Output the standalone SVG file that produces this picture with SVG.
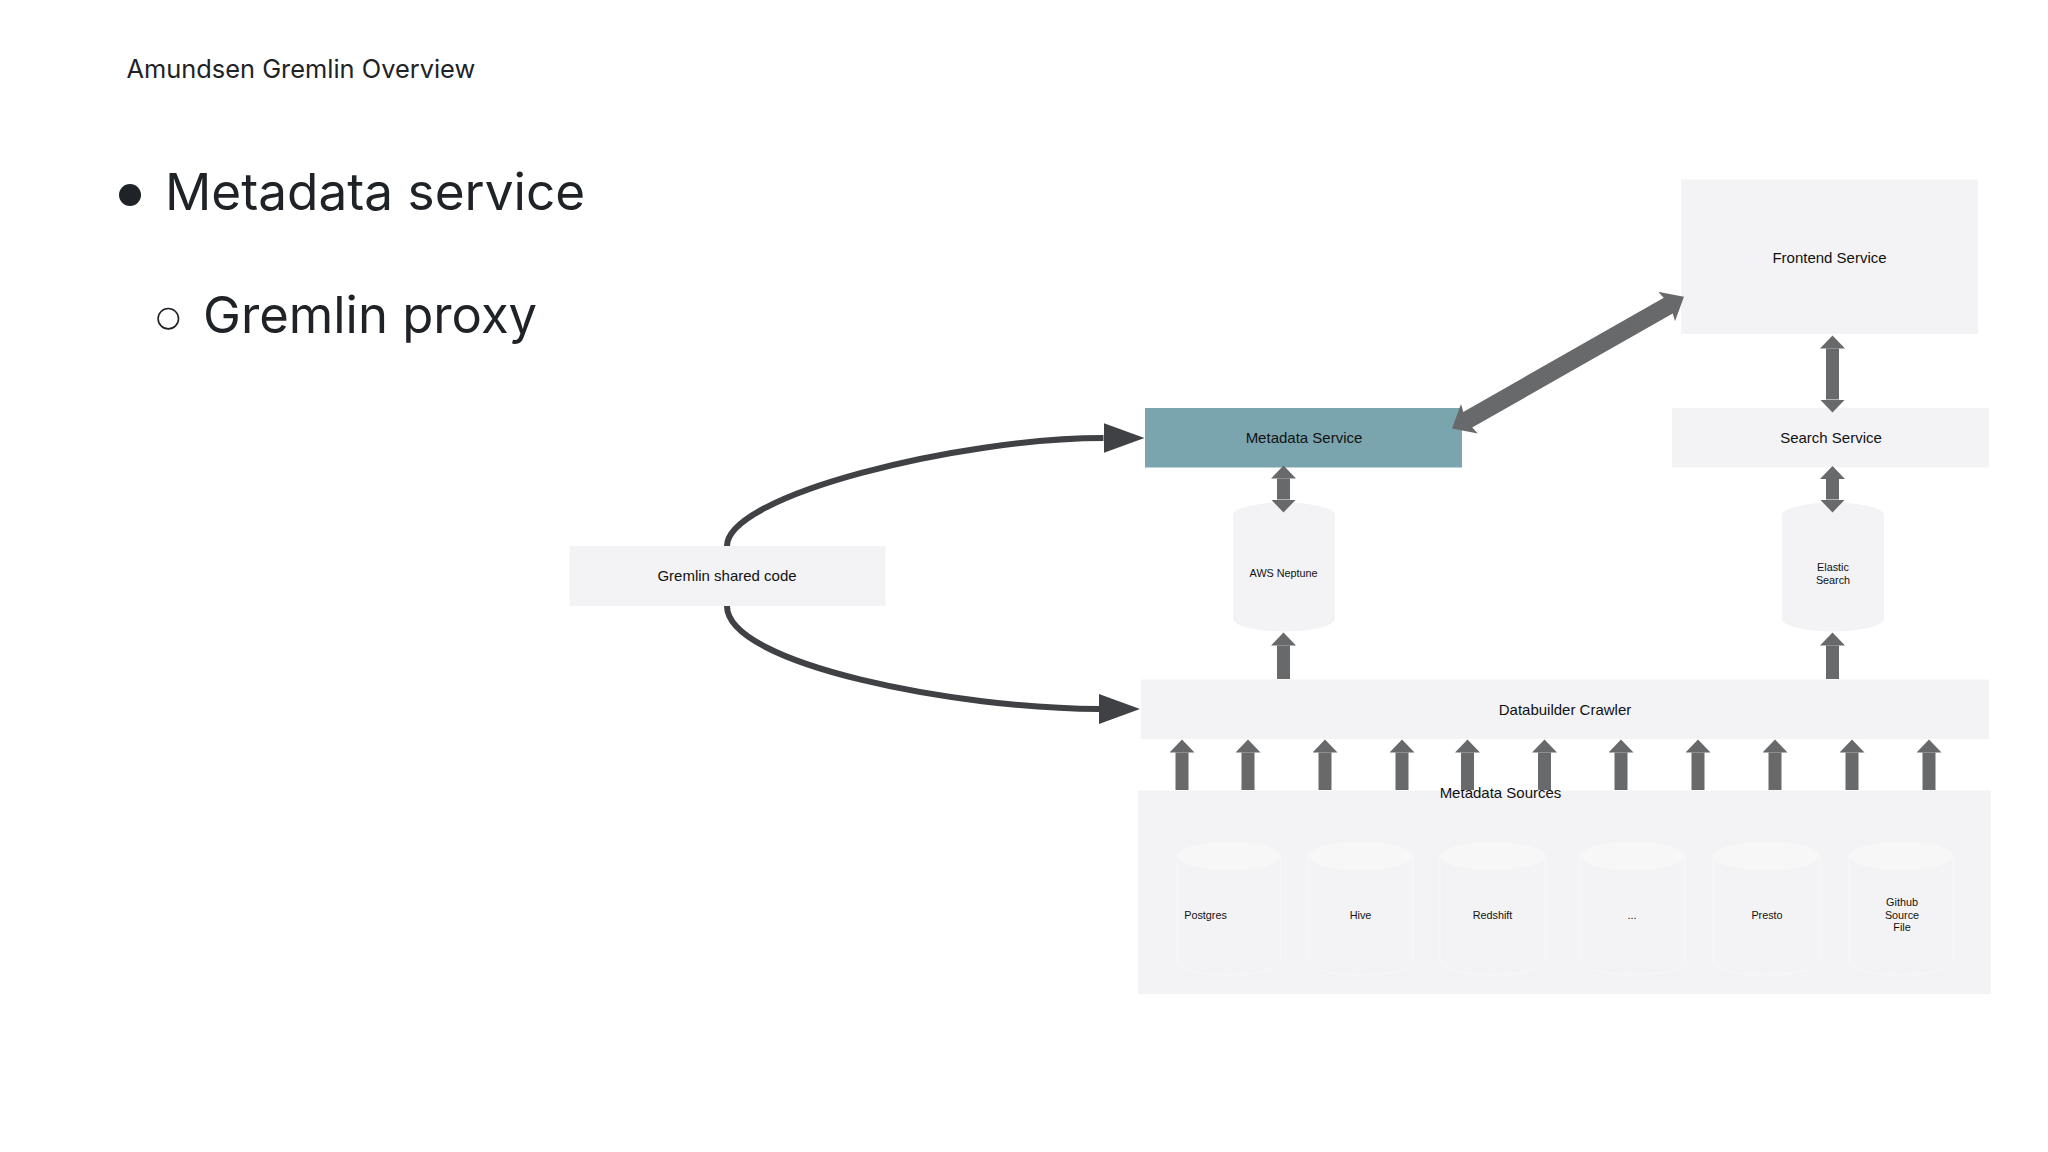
<svg xmlns="http://www.w3.org/2000/svg" width="2048" height="1152" viewBox="0 0 2048 1152">
<style>
.box{fill:#f3f3f5}
.cyl{fill:#f3f3f5}
.src{fill:#f3f3f5;stroke:#f8f8f9;stroke-width:1}
.top{fill:#f7f7f8}
.lbl{font-family:"Liberation Sans",Arial,sans-serif;fill:#111;text-anchor:middle}
.l16{font-size:15px}
.l11{font-size:10.8px}
.hd{font-family:Inter,sans-serif;fill:#1f2327}
.ar{stroke:#68696b;stroke-width:13;fill:none}
.diag{stroke:#68696b;stroke-width:18;fill:none}
.cv{stroke:#3f4144;stroke-width:6;fill:none}
</style>
<defs>
<marker id="h" markerUnits="userSpaceOnUse" markerWidth="14" markerHeight="26" refX="0" refY="12.5" orient="auto-start-reverse"><path d="M0 0L13 12.5L0 25Z" fill="#68696b"/></marker>
<marker id="hd" markerUnits="userSpaceOnUse" markerWidth="22" markerHeight="36" refX="6" refY="17" orient="auto-start-reverse"><path d="M0 0L20 17L0 34L4 17Z" fill="#68696b"/></marker>
<marker id="hc" markerUnits="userSpaceOnUse" markerWidth="42" markerHeight="31" refX="0" refY="15" orient="auto"><path d="M0 0L41 15L0 30Z" fill="#3f4144"/></marker>
</defs>
<rect width="2048" height="1152" fill="#fff"/>
<text id="title" class="hd" x="126.5" y="77.500" font-size="25.400">Amundsen Gremlin Overview</text>
<g id="bullets">
<circle cx="130" cy="195" r="11" fill="#1f2327"/>
<text class="hd" font-size="51.300" x="165" y="210">Metadata service</text>
<circle cx="168.3" cy="318.7" r="10.2" fill="none" stroke="#1f2327" stroke-width="1.6"/>
<text class="hd" font-size="50.800" x="203" y="333">Gremlin proxy</text>
</g>
<g id="node-frontend"><rect class="box" x="1681" y="179.500" width="297" height="154.500"/><text class="lbl l16" x="1829.500" y="262.700">Frontend Service</text></g>
<g id="node-search"><rect class="box" x="1672" y="408" width="317" height="59.500"/><text class="lbl l16" x="1831" y="443">Search Service</text></g>
<g id="node-metadata"><rect x="1145" y="408" width="317" height="59.500" fill="#7ba5ae"/><text class="lbl l16" x="1304" y="443">Metadata Service</text></g>
<g id="node-gremlin"><rect class="box" x="569.500" y="546" width="316" height="60"/><text class="lbl l16" x="727" y="581">Gremlin shared code</text></g>
<g id="node-neptune"><path class="cyl" d="M1233 515a51 12.500 0 0 1 102 0V619a51 12.500 0 0 1-102 0Z"/><text class="lbl l11" x="1283.600" y="577">AWS Neptune</text></g>
<g id="node-elastic"><path class="cyl" d="M1782 515a51 12.500 0 0 1 102 0V619a51 12.500 0 0 1-102 0Z"/><text class="lbl l11" x="1833" y="571">Elastic</text><text class="lbl l11" x="1833" y="584">Search</text></g>
<g id="node-crawler"><rect class="box" x="1141" y="679.500" width="848" height="59.500"/><text class="lbl l16" x="1565" y="714.500">Databuilder Crawler</text></g>
<g id="node-sources"><rect class="box" x="1138" y="790.500" width="853" height="203.500"/><text class="lbl l16" x="1500.500" y="798">Metadata Sources</text></g>
<g id="node-postgres"><path class="src" d="M1177.500 856V961a51.500 14 0 0 0 103 0V856"/><ellipse class="top" cx="1229" cy="856" rx="51.500" ry="14"/><text class="lbl l11" x="1205.500" y="919">Postgres</text></g>
<g id="node-hive"><path class="src" d="M1308 856V961a52 14 0 0 0 105 0V856"/><ellipse class="top" cx="1360.500" cy="856" rx="52.500" ry="14"/><text class="lbl l11" x="1360.500" y="919">Hive</text></g>
<g id="node-redshift"><path class="src" d="M1440 856V961a53 14 0 0 0 106 0V856"/><ellipse class="top" cx="1493" cy="856" rx="53" ry="14"/><text class="lbl l11" x="1492.500" y="919">Redshift</text></g>
<g id="node-more"><path class="src" d="M1580 856V961a52.500 14 0 0 0 105 0V856"/><ellipse class="top" cx="1632.500" cy="856" rx="52.500" ry="14"/><text class="lbl l11" x="1632" y="919">...</text></g>
<g id="node-presto"><path class="src" d="M1713 856V961a53.500 14 0 0 0 107 0V856"/><ellipse class="top" cx="1766" cy="856" rx="54" ry="14"/><text class="lbl l11" x="1767" y="919">Presto</text></g>
<g id="node-github"><path class="src" d="M1849 856V961a52 14 0 0 0 104.500 0V856"/><ellipse class="top" cx="1901.500" cy="856" rx="52" ry="14"/><text class="lbl l11" x="1902" y="906">Github</text><text class="lbl l11" x="1902" y="919">Source</text><text class="lbl l11" x="1902" y="931">File</text></g>
<g id="connectors">
<path class="cv" d="M727 546C727 495 960 438 1103.500 438" marker-end="url(#hc)"/>
<path class="cv" d="M727 606C727 665 960 709 1099 709" marker-end="url(#hc)"/>
<line class="diag" x1="1464.200" y1="421.700" x2="1671.800" y2="303.600" marker-start="url(#hd)" marker-end="url(#hd)"/>
<line class="ar" x1="1832.500" y1="348.500" x2="1832.500" y2="399.500" marker-start="url(#h)" marker-end="url(#h)"/>
<line class="ar" x1="1283.500" y1="478.500" x2="1283.500" y2="499.500" marker-start="url(#h)" marker-end="url(#h)"/>
<line class="ar" x1="1832.500" y1="479" x2="1832.500" y2="499.500" marker-start="url(#h)" marker-end="url(#h)"/>
<line class="ar" x1="1283.500" y1="679" x2="1283.500" y2="645.500" marker-end="url(#h)"/>
<line class="ar" x1="1832.500" y1="679" x2="1832.500" y2="645.500" marker-end="url(#h)"/>
<line class="ar" x1="1182" y1="790" x2="1182" y2="752.500" marker-end="url(#h)"/>
<line class="ar" x1="1248" y1="790" x2="1248" y2="752.500" marker-end="url(#h)"/>
<line class="ar" x1="1325" y1="790" x2="1325" y2="752.500" marker-end="url(#h)"/>
<line class="ar" x1="1402" y1="790" x2="1402" y2="752.500" marker-end="url(#h)"/>
<line class="ar" x1="1467.500" y1="790" x2="1467.500" y2="752.500" marker-end="url(#h)"/>
<line class="ar" x1="1544.500" y1="790" x2="1544.500" y2="752.500" marker-end="url(#h)"/>
<line class="ar" x1="1621" y1="790" x2="1621" y2="752.500" marker-end="url(#h)"/>
<line class="ar" x1="1698" y1="790" x2="1698" y2="752.500" marker-end="url(#h)"/>
<line class="ar" x1="1775" y1="790" x2="1775" y2="752.500" marker-end="url(#h)"/>
<line class="ar" x1="1852" y1="790" x2="1852" y2="752.500" marker-end="url(#h)"/>
<line class="ar" x1="1929" y1="790" x2="1929" y2="752.500" marker-end="url(#h)"/>
</g>
</svg>
